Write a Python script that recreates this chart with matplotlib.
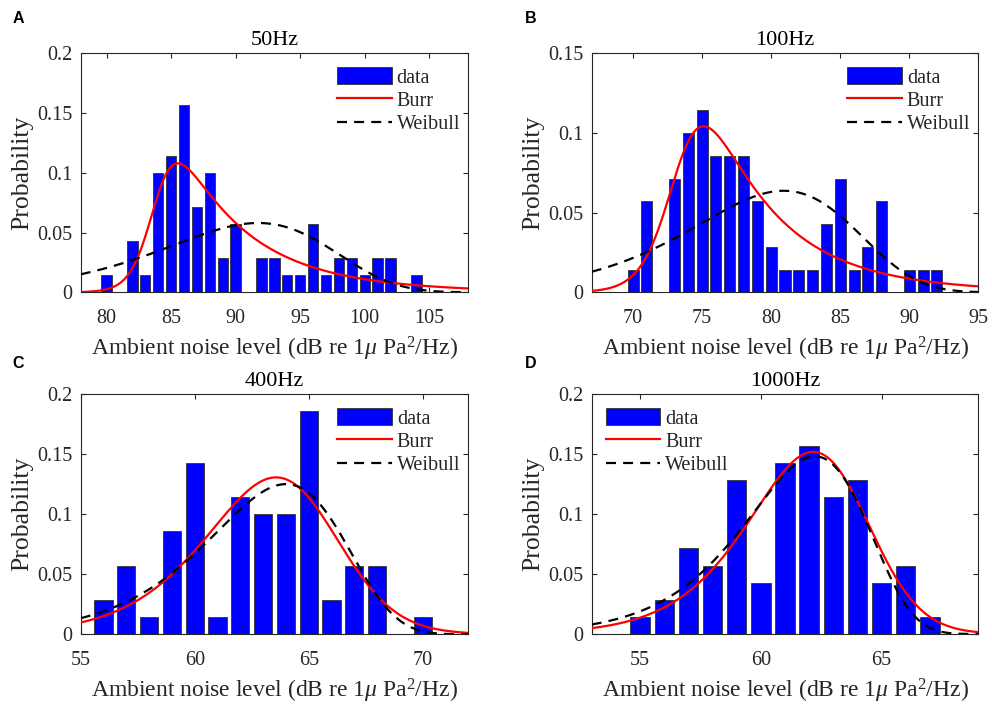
import numpy as np
import matplotlib
matplotlib.use("Agg")
import matplotlib.pyplot as plt
from matplotlib.patches import Patch
from matplotlib.lines import Line2D
from matplotlib.ticker import FormatStrFormatter

plt.rcParams['font.family'] = ['Liberation Serif', 'DejaVu Serif']
plt.rcParams['mathtext.fontset'] = 'custom'
plt.rcParams['mathtext.rm'] = 'Liberation Serif'
plt.rcParams['mathtext.it'] = 'Liberation Serif:italic'

INK = "#262626"

# --- 50 Hz (panel A) ---
levels_50 = [80, 82, 83, 84, 85, 86, 87, 88, 89, 90, 92, 93, 94, 95, 96, 97, 98, 99, 100, 101, 102, 104]
prob_50 = [0.0143, 0.0429, 0.0143, 0.1, 0.1143, 0.1571, 0.0714, 0.1, 0.0286, 0.0571, 0.0286,
           0.0286, 0.0143, 0.0143, 0.0571, 0.0143, 0.0286, 0.0286, 0.0143, 0.0286, 0.0286, 0.0143]
burr_50 = (83.9, 90.0, 0.165)      # alpha, c, k
weibull_50 = (92.2, 14.5)          # a, b

# --- 100 Hz (panel B) ---
levels_100 = [70, 71, 73, 74, 75, 76, 77, 78, 79, 80, 81, 82, 83, 84, 85, 86, 87, 88, 90, 91, 92]
prob_100 = [0.0143, 0.0571, 0.0714, 0.1, 0.1143, 0.0857, 0.0857, 0.0857, 0.0571, 0.0286, 0.0143,
            0.0143, 0.0143, 0.0429, 0.0714, 0.0143, 0.0286, 0.0571, 0.0143, 0.0143, 0.0143]
burr_100 = (73.44, 60.0, 0.24)
weibull_100 = (81.33, 14.05)

# --- 400 Hz (panel C) ---
levels_400 = [56, 57, 58, 59, 60, 61, 62, 63, 64, 65, 66, 67, 68, 70]
prob_400 = [0.0286, 0.0571, 0.0143, 0.0857, 0.1429, 0.0143, 0.1143, 0.1, 0.1, 0.1857,
            0.0286, 0.0571, 0.0571, 0.0143]
burr_400 = (66.41, 26.3, 3.0)
weibull_400 = (64.14, 21.8)

# --- 1000 Hz (panel D) ---
levels_1000 = [55, 56, 57, 58, 59, 60, 61, 62, 63, 64, 65, 66, 67]
prob_1000 = [0.0143, 0.0286, 0.0714, 0.0571, 0.1286, 0.0429, 0.1429, 0.1571, 0.1143, 0.1286,
             0.0429, 0.0571, 0.0143]
burr_1000 = (64.98, 29.3, 3.5)
weibull_1000 = (62.34, 25.1)


def burr_pdf(x, alpha, c, k):
    u = (x / alpha) ** c
    return (k * c / x) * u * (1 + u) ** (-k - 1)


def weibull_pdf(x, a, b):
    z = x / a
    return (b / a) * z ** (b - 1) * np.exp(-z ** b)


def draw_panel(ax, levels, probs, burr, weib, title, xlim, xticks, ymax, yticks, legend_loc):
    ax.bar(levels, probs, width=0.8, color="#0000FF", edgecolor="#333333", linewidth=0.6, zorder=2)
    xs = np.linspace(xlim[0], xlim[1], 600)
    ax.plot(xs, burr_pdf(xs, *burr), color="#FF0000", lw=1.6, zorder=3)
    ax.plot(xs, weibull_pdf(xs, *weib), color="black", lw=1.6, dashes=(4.5, 3.2), zorder=3)

    ax.set_xlim(*xlim)
    ax.set_ylim(0, ymax)
    ax.set_xticks(xticks)
    ax.set_yticks(yticks)
    ax.yaxis.set_major_formatter(FormatStrFormatter('%g'))
    ax.tick_params(direction="in", length=3.6, width=0.8, top=True, right=True,
                   labelsize=14.5, colors=INK)
    ax.tick_params(axis="x", pad=12)
    ax.tick_params(axis="y", pad=6)
    for s in ax.spines.values():
        s.set_color(INK)
        s.set_linewidth(0.8)

    ax.set_title(title, fontsize=16, color="black", pad=6)
    ax.set_xlabel(r"Ambient noise level (dB re 1$\mu$ Pa$^2$/Hz)", fontsize=17, color=INK, labelpad=5)
    ax.set_ylabel("Probability", fontsize=18.5, color=INK)
    ax.yaxis.set_label_coords(-0.123, 0.5)

    handles = [Patch(facecolor="#0000FF", edgecolor="#333333", linewidth=0.6),
               Line2D([], [], color="#FF0000", lw=1.6),
               Line2D([], [], color="black", lw=1.6, dashes=(4.5, 3.2))]
    anchor = (1.016, 1.0) if legend_loc == "upper right" else (0.0, 1.0)
    ax.legend(handles, ["data", "Burr", "Weibull"], loc=legend_loc, bbox_to_anchor=anchor,
              frameon=False, fontsize=14.5, handlelength=2.7, handleheight=0.9,
              labelspacing=0.15, handletextpad=0.25, borderaxespad=0.3, labelcolor=INK)


fig = plt.figure(figsize=(9.92, 7.04), dpi=100)
W, H = 992.0, 704.0


def add_axes(left, top, right, bottom):
    return fig.add_axes([left / W, 1 - bottom / H, (right - left) / W, (bottom - top) / H])


axA = add_axes(80.7, 53.3, 468.0, 292.3)
axB = add_axes(591.7, 53.3, 978.3, 292.3)
axC = add_axes(80.7, 394.3, 468.3, 634.3)
axD = add_axes(591.7, 394.3, 978.3, 634.0)

draw_panel(axA, levels_50, prob_50, burr_50, weibull_50, "50Hz", (78, 108),
           [80, 85, 90, 95, 100, 105], 0.2, [0, 0.05, 0.1, 0.15, 0.2], "upper right")
draw_panel(axB, levels_100, prob_100, burr_100, weibull_100, "100Hz", (67, 95),
           [70, 75, 80, 85, 90, 95], 0.15, [0, 0.05, 0.1, 0.15], "upper right")
draw_panel(axC, levels_400, prob_400, burr_400, weibull_400, "400Hz", (55, 72),
           [55, 60, 65, 70], 0.2, [0, 0.05, 0.1, 0.15, 0.2], "upper right")
draw_panel(axD, levels_1000, prob_1000, burr_1000, weibull_1000, "1000Hz", (53, 69),
           [55, 60, 65], 0.2, [0, 0.05, 0.1, 0.15, 0.2], "upper left")

for lbl, (px, py) in zip("ABCD", [(18, 18.5), (531, 18.5), (18, 364), (531, 364)]):
    fig.text(px / W, 1 - py / H, lbl, fontsize=11.5, fontweight="bold",
             family="Liberation Sans", ha="center", va="center")

fig.savefig("out.png", dpi=100)
